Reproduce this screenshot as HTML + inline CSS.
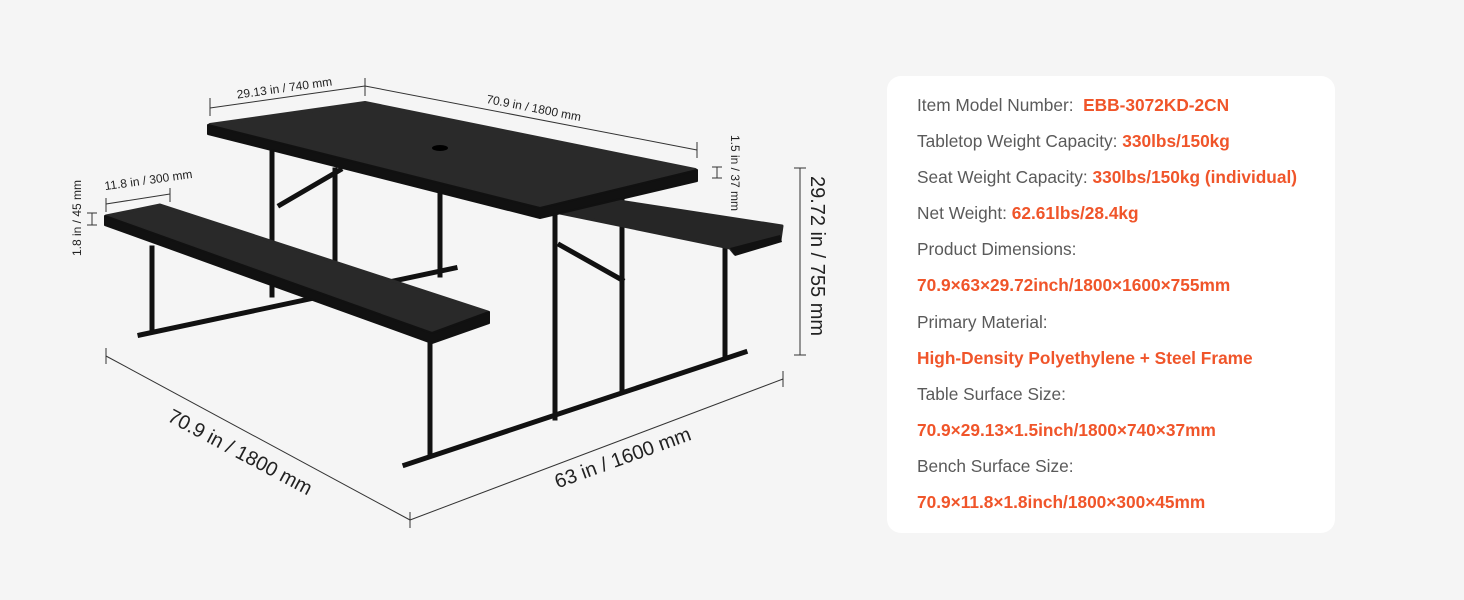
<!DOCTYPE html>
<html><head><meta charset="utf-8"><style>
body{margin:0;width:1464px;height:600px;background:#f5f5f5;position:relative;overflow:hidden;font-family:"Liberation Sans",sans-serif}
#card{position:absolute;left:887px;top:76px;width:448px;height:457px;background:#fff;border-radius:14px}
.r{position:absolute;left:917px;font-size:17.3px;color:#5a5a5a;white-space:nowrap;line-height:20px}
.o{color:#f0552a;font-weight:bold}
svg{position:absolute;left:0;top:0}
</style></head><body>
<div id="card"></div>
<div class="r" style="top:95px">Item Model Number:&nbsp; <span class="o">EBB-3072KD-2CN</span></div>
<div class="r" style="top:131px">Tabletop Weight Capacity: <span class="o">330lbs/150kg</span></div>
<div class="r" style="top:167px">Seat Weight Capacity: <span class="o">330lbs/150kg (individual)</span></div>
<div class="r" style="top:203px">Net Weight: <span class="o">62.61lbs/28.4kg</span></div>
<div class="r" style="top:239px">Product Dimensions:</div>
<div class="r o" style="top:275px">70.9×63×29.72inch/1800×1600×755mm</div>
<div class="r" style="top:312px">Primary Material:</div>
<div class="r o" style="top:348px">High-Density Polyethylene + Steel Frame</div>
<div class="r" style="top:384px">Table Surface Size:</div>
<div class="r o" style="top:420px">70.9×29.13×1.5inch/1800×740×37mm</div>
<div class="r" style="top:456px">Bench Surface Size:</div>
<div class="r o" style="top:492px">70.9×11.8×1.8inch/1800×300×45mm</div>

<svg width="880" height="600" viewBox="0 0 880 600">
<g stroke="#111" stroke-width="5" fill="none" stroke-linecap="square">
 <line x1="272" y1="150" x2="272" y2="295"/>
 <line x1="335" y1="170" x2="335" y2="262"/>
 <line x1="440" y1="195" x2="440" y2="275"/>
 <line x1="152" y1="248" x2="152" y2="330"/>
 <line x1="140" y1="335" x2="455" y2="268"/>
 <line x1="280" y1="205" x2="340" y2="170"/>
 <line x1="430" y1="335" x2="430" y2="455"/>
 <line x1="555" y1="215" x2="555" y2="418"/>
 <line x1="622" y1="195" x2="622" y2="390"/>
 <line x1="725" y1="250" x2="725" y2="358"/>
 <line x1="405" y1="465" x2="745" y2="352"/>
 <line x1="560" y1="245" x2="622" y2="280"/>
</g>
<polygon points="560,213 612,200 782,226 780,240 735,254 730,248" fill="#262626" stroke="#262626" stroke-width="3" stroke-linejoin="round"/>
<polygon points="730,248 780,235 782,242 735,256" fill="#111"/>
<polygon points="210,125 365,103 695,170 540,208" fill="#2a2a2a" stroke="#2a2a2a" stroke-width="4" stroke-linejoin="round"/>
<polygon points="208,125 540,208 697,170 697,181 540,218 208,134" fill="#111" stroke="#111" stroke-width="2" stroke-linejoin="round"/>
<ellipse cx="440" cy="148" rx="8" ry="3" fill="#000"/>
<polygon points="106,216 160,205 488,312 432,333" fill="#292929" stroke="#292929" stroke-width="3" stroke-linejoin="round"/>
<polygon points="105,216 432,333 489,312 489,323 432,343 105,225" fill="#111" stroke="#111" stroke-width="2" stroke-linejoin="round"/>
<g stroke="#333" stroke-width="1" fill="none">
 <line x1="210" y1="108" x2="365" y2="86"/><line x1="210" y1="98" x2="210" y2="116"/><line x1="365" y1="78" x2="365" y2="96"/>
 <line x1="365" y1="86" x2="697" y2="150"/><line x1="697" y1="142" x2="697" y2="158"/>
 <line x1="717" y1="167" x2="717" y2="178"/><line x1="712" y1="167" x2="722" y2="167"/><line x1="712" y1="178" x2="722" y2="178"/>
 <line x1="800" y1="168" x2="800" y2="355"/><line x1="794" y1="168" x2="806" y2="168"/><line x1="794" y1="355" x2="806" y2="355"/>
 <line x1="106" y1="204" x2="170" y2="194"/><line x1="106" y1="198" x2="106" y2="212"/><line x1="170" y1="188" x2="170" y2="202"/>
 <line x1="92" y1="213" x2="92" y2="225"/><line x1="87" y1="213" x2="97" y2="213"/><line x1="87" y1="225" x2="97" y2="225"/>
 <line x1="106" y1="356" x2="410" y2="520"/><line x1="106" y1="348" x2="106" y2="364"/><line x1="410" y1="512" x2="410" y2="528"/>
 <line x1="410" y1="520" x2="783" y2="379"/><line x1="783" y1="371" x2="783" y2="387"/>
</g>
<g fill="#222" font-family="Liberation Sans, sans-serif" text-anchor="middle">
 <text font-size="12" transform="translate(285,92) rotate(-8)">29.13 in / 740 mm</text>
 <text font-size="12" transform="translate(533,112) rotate(11)">70.9 in / 1800 mm</text>
 <text font-size="12" transform="translate(731,173) rotate(90)">1.5 in / 37 mm</text>
 <text font-size="20" transform="translate(811,256) rotate(90)">29.72 in / 755 mm</text>
 <text font-size="12" transform="translate(149,184) rotate(-8)">11.8 in / 300 mm</text>
 <text font-size="12" transform="translate(81,218) rotate(-90)">1.8 in / 45 mm</text>
 <text font-size="20" transform="translate(237,458) rotate(28)">70.9 in / 1800 mm</text>
 <text font-size="20" transform="translate(625,464) rotate(-20)">63 in / 1600 mm</text>
</g>
</svg>
</body></html>
